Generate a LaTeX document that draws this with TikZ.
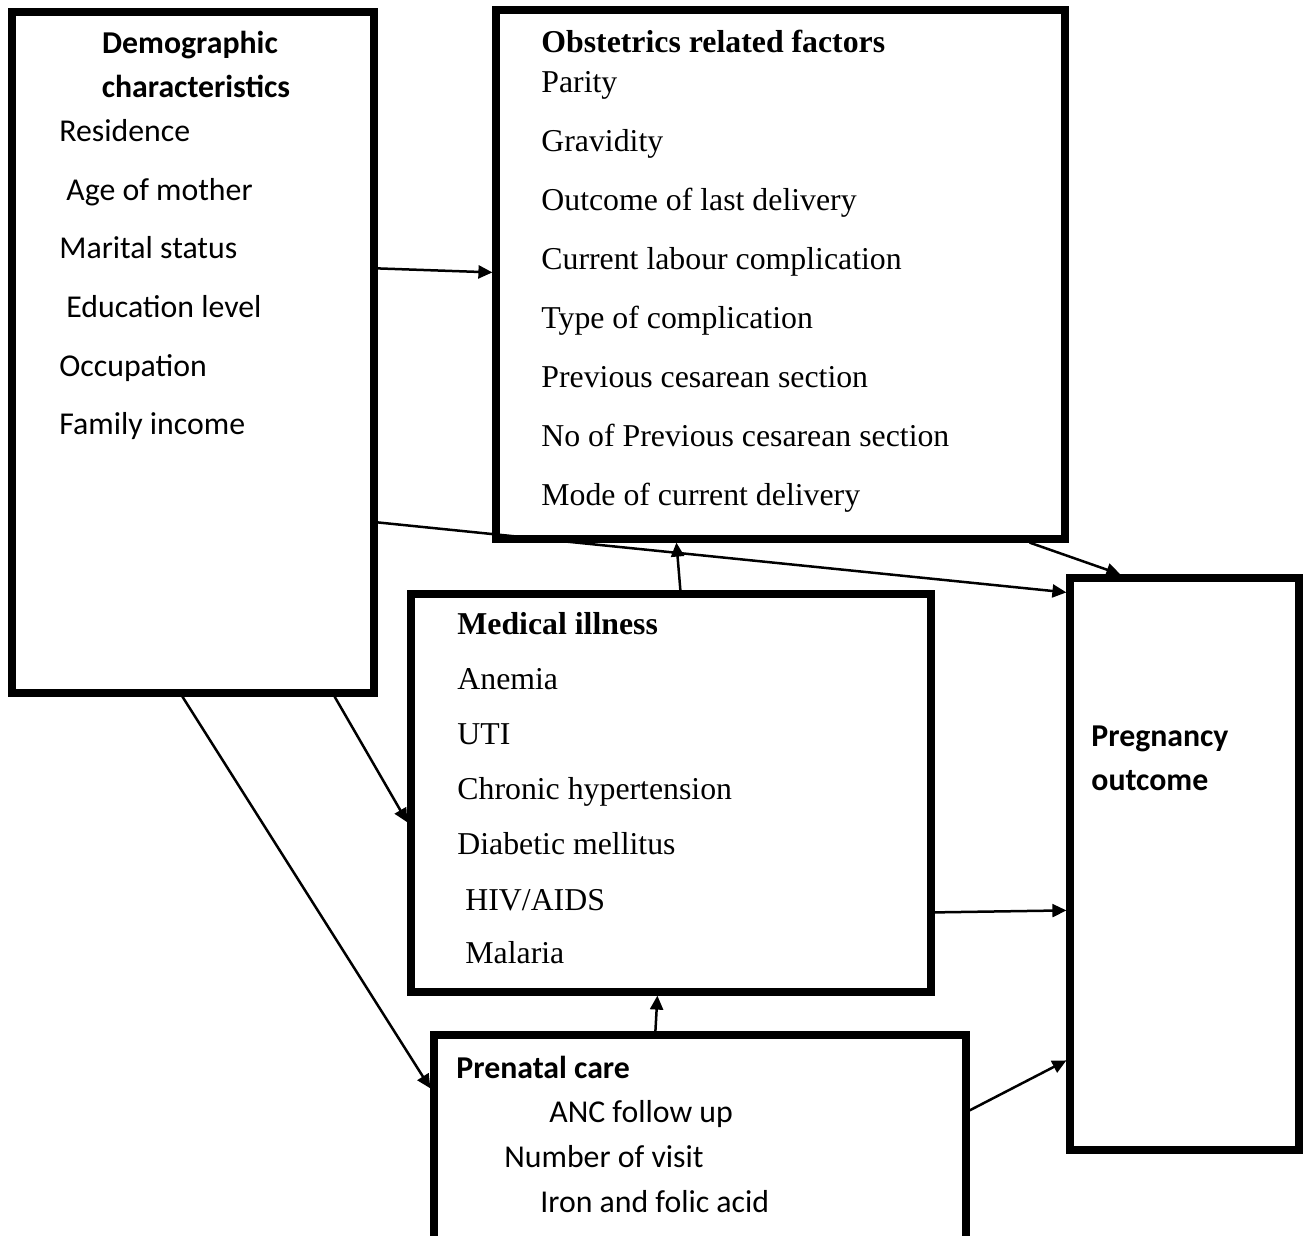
\documentclass[tikz,border=0pt]{standalone}
\usepackage{fontspec}
\setmainfont{Liberation Serif}
\newfontfamily\calfont{Carlito}
\usetikzlibrary{arrows.meta,calc}
\begin{document}
\begin{tikzpicture}[x=0.5pt,y=-0.5pt,
  box/.style={draw,line width=3.6pt,rectangle,inner sep=0pt},
  conn/.style={line width=1.25pt,-{Triangle[length=7pt,width=6.5pt]}},
  txt/.style={anchor=west,inner sep=0pt,yshift=-3pt,text height=0.7em,text depth=0.25em,font=\fontsize{15.9}{19}\selectfont},
  ctxt/.style={txt,font=\fontsize{15.9}{19}\selectfont\calfont},
  btxt/.style={txt,font=\fontsize{15.9}{19}\selectfont\bfseries},
  bctxt/.style={txt,font=\fontsize{15.9}{19}\selectfont\calfont\bfseries}]
\useasboundingbox (0,0) rectangle (1303,1236);
% boxes
\node[box,minimum width=181pt,minimum height=340.5pt] (demo) at (193,352.5) {};
\node[box,minimum width=284.5pt,minimum height=264.5pt] (obst) at (780.5,274.5) {};
\node[box,minimum width=260pt,minimum height=199pt] (med) at (671,793) {};
\node[box,minimum width=266pt,minimum height=107.5pt] (pre) at (700,1142.5) {};
\node[box,minimum width=114.5pt,minimum height=286pt] (preg) at (1184.5,864) {};
% demographic texts
\node[bctxt,anchor=center] (d0) at (190,43) {Demographic};
\node[bctxt,anchor=center] (d1) at (196,87) {characteristics};
\node[ctxt] (d2) at (59,131) {Residence};
\node[ctxt] (d3) at (66,190) {Age of mother};
\node[ctxt] (d4) at (59,248) {Marital status};
\node[ctxt] (d5) at (66,307) {Education level};
\node[ctxt] (d6) at (59,366) {Occupation};
\node[ctxt] (d7) at (59,424) {Family income};
% obstetrics texts
\node[btxt] (o0) at (541,42) {Obstetrics related factors};
\node[txt] (o1) at (541,82) {Parity};
\node[txt] (o2) at (541,141) {Gravidity};
\node[txt] (o3) at (541,200) {Outcome of last delivery};
\node[txt] (o4) at (541,259) {Current labour complication};
\node[txt] (o5) at (541,318) {Type of complication};
\node[txt] (o6) at (541,377) {Previous cesarean section};
\node[txt] (o7) at (541,436) {No of Previous cesarean section};
\node[txt] (o8) at (541,495) {Mode of current delivery};
% medical texts
\node[btxt] (m0) at (457,624) {Medical illness};
\node[txt] (m1) at (457,679) {Anemia};
\node[txt] (m2) at (457,734) {UTI};
\node[txt] (m3) at (457,789) {Chronic hypertension};
\node[txt] (m4) at (457,844) {Diabetic mellitus};
\node[txt] (m5) at (465,900) {HIV/AIDS};
\node[txt] (m6) at (465,953) {Malaria};
% prenatal texts
\node[bctxt] (p0) at (456,1068) {Prenatal care};
\node[ctxt] (p1) at (549,1112) {ANC follow up};
\node[ctxt] (p2) at (504,1157) {Number of visit};
\node[ctxt] (p3) at (540,1202) {Iron and folic acid};
% pregnancy outcome
\node[bctxt] (g0) at (1091,736) {Pregnancy};
\node[bctxt] (g1) at (1091,780) {outcome};
% connectors
\draw[conn] ($(demo.north east)+(0,260)$) -- ($(obst.north west)+(0,266)$);
\draw[conn] ($(demo.north east)+(0,514)$) -- ($(preg.north west)+(0,18)$);
\draw[conn] ($(obst.south east)+(-39,0)$) -- ($(preg.north west)+(54,0)$);
\draw[conn] ($(med.north west)+(273,0)$) -- ($(obst.south west)+(184,0)$);
\draw[conn] ($(demo.south east)+(-43,0)$) -- ($(med.north west)+(0,232)$);
\draw[conn] ($(demo.south west)+(174,0)$) -- ($(pre.north west)+(0,57)$);
\draw[conn] ($(med.north east)+(0,322)$) -- ($(preg.north west)+(0,336)$);
\draw[conn] ($(pre.north west)+(225,0)$) -- ($(med.south west)+(250,0)$);
\draw[conn] ($(pre.north east)+(0,79)$) -- ($(preg.north west)+(0,486)$);
\end{tikzpicture}
\end{document}
